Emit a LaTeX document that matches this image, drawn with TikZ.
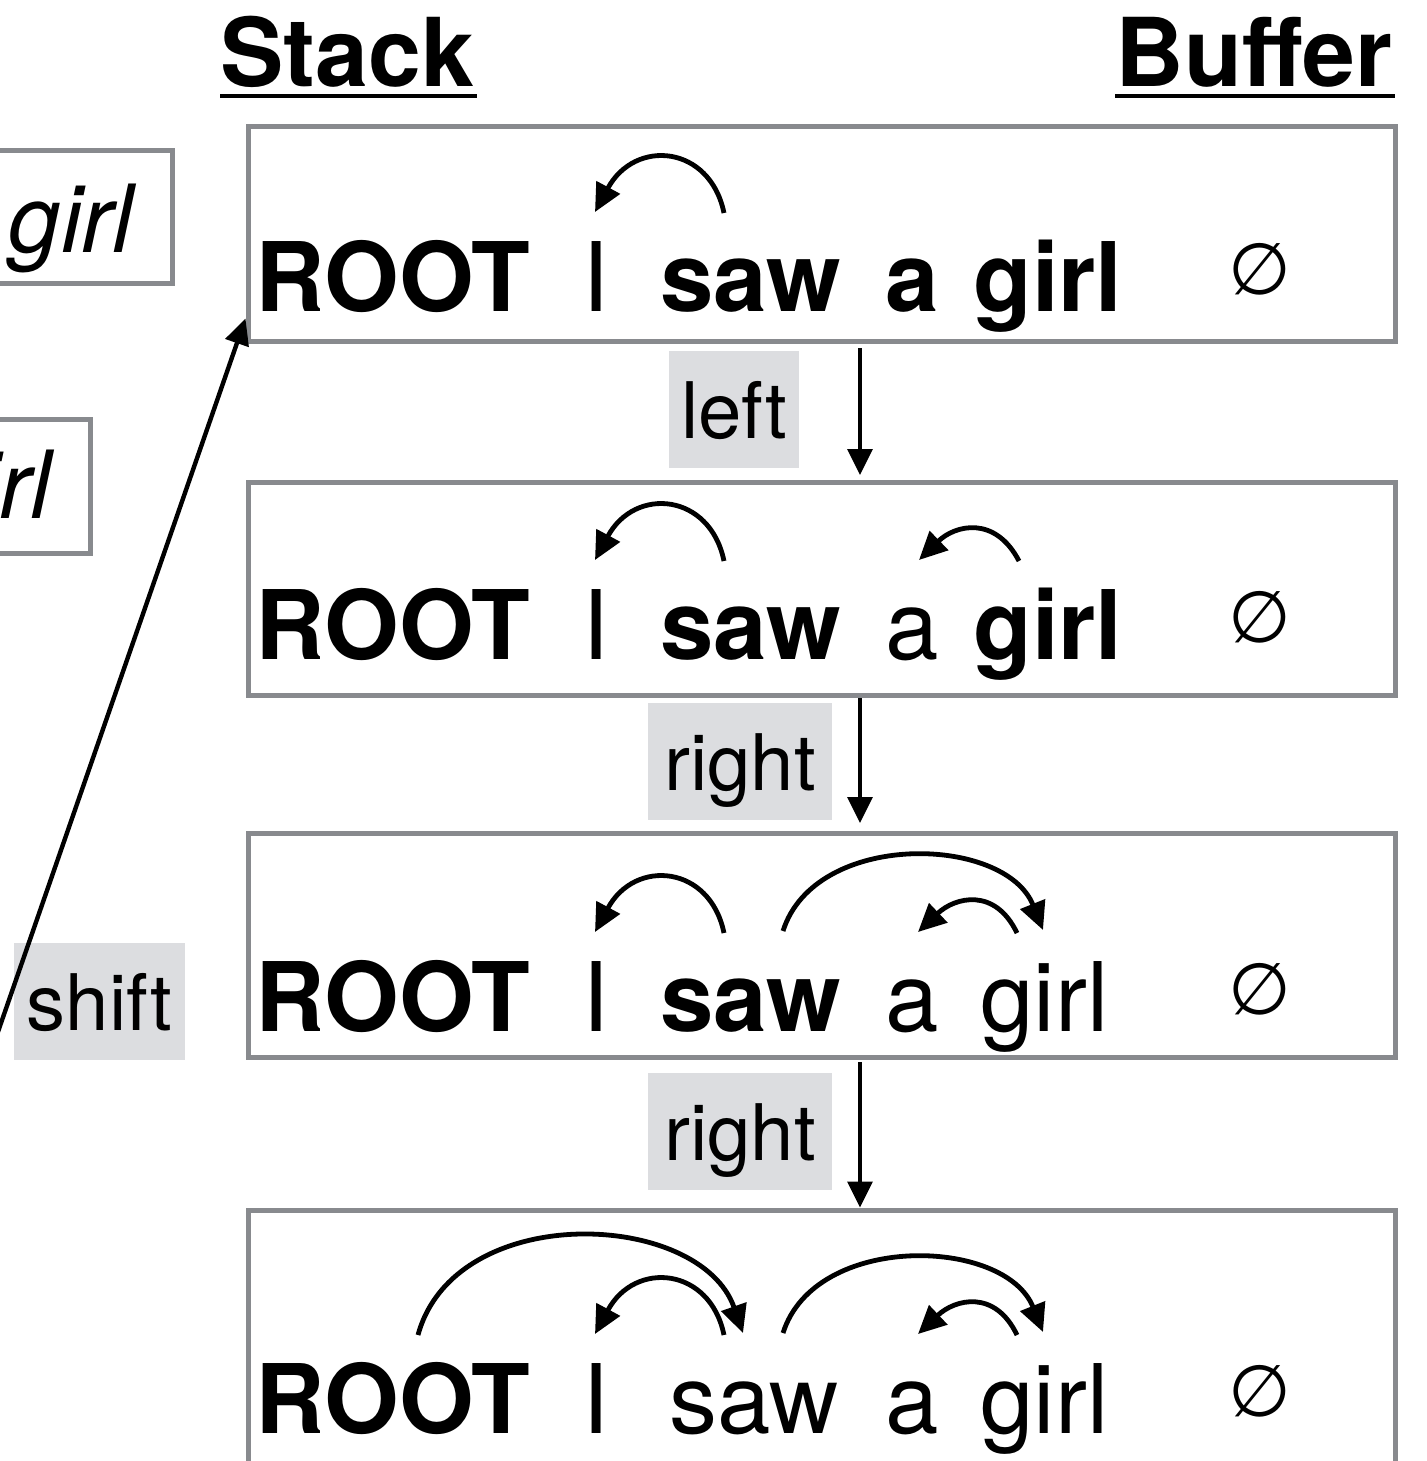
\documentclass[tikz,border=0pt]{standalone}
\usepackage{fontspec}
\setmainfont{TeX Gyre Heros}
\newfontfamily\symfnt{DejaVu Sans}
\usetikzlibrary{arrows.meta,fit,calc}
\definecolor{boxgray}{HTML}{888A8E}
\definecolor{lblgray}{HTML}{DCDDE0}
\begin{document}
\begin{tikzpicture}[x=0.5pt,y=-0.5pt,
  box/.style={draw=boxgray, line width=2.5pt, inner sep=0pt},
  word/.style={inner sep=0pt, anchor=base west, font=\fontsize{48pt}{50pt}\selectfont},
  bword/.style={inner sep=0pt, anchor=base west, font=\fontsize{48pt}{50pt}\selectfont\bfseries},
  iword/.style={inner sep=0pt, anchor=base east, font=\fontsize{47pt}{50pt}\selectfont\itshape},
  title/.style={inner sep=0pt, anchor=base west, font=\fontsize{47.5pt}{50pt}\selectfont\bfseries},
  empty/.style={inner sep=0pt, font=\fontsize{36pt}{40pt}\symfnt},
  lbl/.style={fill=lblgray, inner sep=0pt, minimum height=58.5pt, text height=29pt, text depth=0pt, font=\fontsize{39pt}{42pt}\selectfont},
  arc/.style={line width=2.4pt, -{Triangle[length=14pt,width=13pt]}},
  varrow/.style={line width=1.6pt, -{Triangle[length=13pt,width=12.5pt]}},
  sharrow/.style={line width=2.2pt, -{Triangle[length=13pt,width=12pt]}},
  uline/.style={line width=2pt}
]
\useasboundingbox (0,0) rectangle (1427,1461);
\clip (0,0) rectangle (1427,1461);

% titles
\node[title] (stack) at (220,87) {Stack};
\node[title] (buffer) at (1115,87) {Buffer};
\draw[uline] ($(stack.base west)+(0,9)$) -- ($(stack.base east)+(2,9)$);
\draw[uline] ($(buffer.base west)+(0,9)$) -- ($(buffer.base east)+(2,9)$);

% left partially visible boxes
\node[box, fit={(-300,150)(172,283)}] (lboxA) {};
\node[box, fit={(-300,419)(90,553)}] (lboxB) {};
\node[iword] (tA) at (134,252) {girl};
\node[iword] (tB) at (52,518) {girl};

% main boxes
\node[box, fit={(248,127)(1395,341)}] (box1) {};
\node[box, fit={(248,482)(1395,695)}] (box2) {};
\node[box, fit={(248,833)(1395,1057)}] (box3) {};
\node[box, fit={(248,1210)(1395,1560)}] (box4) {};

% row 1
\node[bword] (r1root) at (255,311) {ROOT};
\node[word]  (r1i)    at (582,311) {I};
\node[bword] (r1saw)  at (660,311) {saw};
\node[bword] (r1a)    at (885,311) {a};
\node[bword] (r1girl) at (973,311) {girl};
\node[empty] (r1e)    at (1260,269) {∅};
\draw[arc] (724,213) .. controls (710,145) and (635,138) .. (595,212);

% row 2
\node[bword] (r2root) at (255,659) {ROOT};
\node[word]  (r2i)    at (582,659) {I};
\node[bword] (r2saw)  at (660,659) {saw};
\node[word]  (r2a)    at (885,659) {a};
\node[bword] (r2girl) at (973,659) {girl};
\node[empty] (r2e)    at (1260,617) {∅};
\draw[arc] (724,561) .. controls (710,493) and (635,486) .. (595,560);
\draw[arc] (1019,561) .. controls (995,515) and (955,525) .. (919,560);

% row 3
\node[bword] (r3root) at (255,1031) {ROOT};
\node[word]  (r3i)    at (582,1031) {I};
\node[bword] (r3saw)  at (660,1031) {saw};
\node[word]  (r3a)    at (885,1031) {a};
\node[word]  (r3girl) at (980,1031) {girl};
\node[empty] (r3e)    at (1260,989) {∅};
\draw[arc] (724,933) .. controls (710,865) and (635,858) .. (595,932);
\draw[arc] (783,931) .. controls (815,830) and (1005,835) .. (1043,930);
\draw[arc] (1017,933) .. controls (995,887) and (955,897) .. (918,932);

% row 4
\node[bword] (r4root) at (255,1433) {ROOT};
\node[word]  (r4i)    at (582,1433) {I};
\node[word]  (r4saw)  at (669,1433) {saw};
\node[word]  (r4a)    at (885,1433) {a};
\node[word]  (r4girl) at (980,1433) {girl};
\node[empty] (r4e)    at (1260,1391) {∅};
\draw[arc] (418,1335) .. controls (455,1200) and (700,1210) .. (743,1333);
\draw[arc] (724,1335) .. controls (710,1267) and (635,1260) .. (595,1334);
\draw[arc] (783,1333) .. controls (815,1232) and (1005,1237) .. (1043,1332);
\draw[arc] (1017,1335) .. controls (995,1289) and (955,1299) .. (918,1334);

% transition labels
\node[lbl, minimum width=65pt] (lleft) at (734,409.5) {left};
\node[lbl, minimum width=92pt] (lright1) at (740,761.5) {right};
\node[lbl, minimum width=92pt] (lright2) at (740,1131.5) {right};
\node[lbl, minimum width=85.5pt] (lshift) at (99.5,1001.5) {shift};

% vertical arrows
\coordinate (vx) at (860,0);
\draw[varrow, shorten <=2.25pt, shorten >=2.25pt] (box1.south -| vx) -- (box2.north -| vx);
\draw[varrow, shorten <=0.25pt, shorten >=3.75pt] (box2.south -| vx) -- (box3.north -| vx);
\draw[varrow, shorten <=1.25pt] (box3.south -| vx) -- (box4.north -| vx);

% shift arrow
\coordinate (sh0) at (-8,1049);
\draw[sharrow] (sh0) -- ($(box1.south west)+(0,-25)$);
\end{tikzpicture}
\end{document}
